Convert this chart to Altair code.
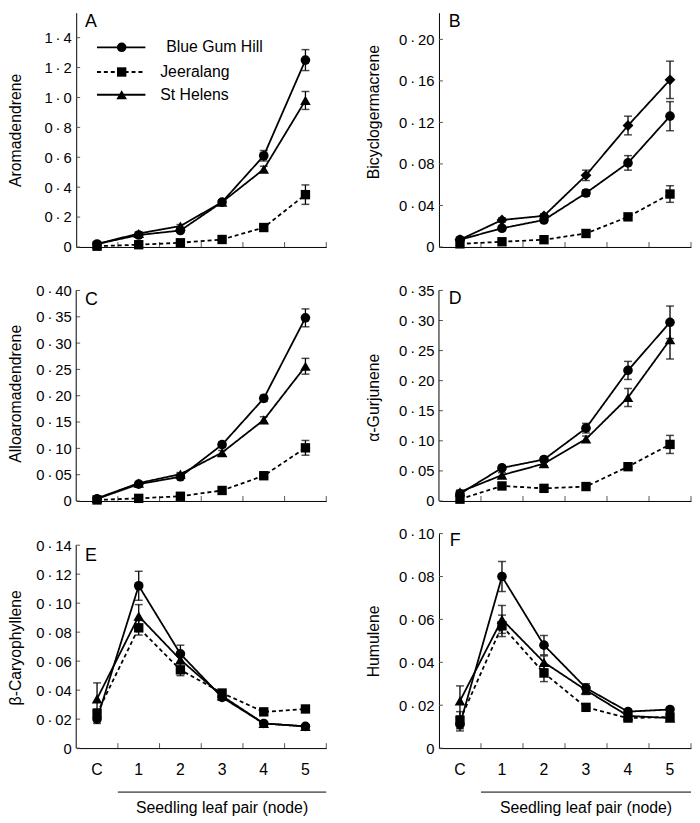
import altair as alt
import pandas as pd

cats = ["C", "1", "2", "3", "4", "5"]
series = ["Blue Gum Hill", "Jeeralang", "St Helens"]

# A - Aromadendrene
aro_bgh = [0.02, 0.08, 0.11, 0.30, 0.61, 1.25]
aro_jee = [0.005, 0.015, 0.028, 0.05, 0.13, 0.35]
aro_sth = [0.02, 0.09, 0.14, 0.30, 0.52, 0.98]
aro_bgh_se = [0.005, 0.01, 0.01, 0.015, 0.035, 0.07]
aro_jee_se = [0.002, 0.004, 0.005, 0.006, 0.01, 0.065]
aro_sth_se = [0.005, 0.01, 0.01, 0.015, 0.02, 0.06]
aro_ticks = [0, 0.2, 0.4, 0.6, 0.8, 1.0, 1.2, 1.4]

# B - Bicyclogermacrene
bic_bgh = [0.007, 0.018, 0.026, 0.052, 0.081, 0.126]
bic_jee = [0.003, 0.005, 0.007, 0.013, 0.029, 0.051]
bic_sth = [0.007, 0.026, 0.030, 0.069, 0.117, 0.161]
bic_bgh_se = [0.001, 0.002, 0.002, 0.003, 0.007, 0.014]
bic_jee_se = [0.0005, 0.001, 0.001, 0.002, 0.002, 0.008]
bic_sth_se = [0.001, 0.002, 0.002, 0.005, 0.009, 0.018]
bic_ticks = [0, 0.04, 0.08, 0.12, 0.16, 0.20]

# C - Alloaromadendrene
all_bgh = [0.004, 0.032, 0.046, 0.107, 0.195, 0.348]
all_jee = [0.002, 0.005, 0.009, 0.020, 0.048, 0.101]
all_sth = [0.005, 0.034, 0.051, 0.092, 0.154, 0.256]
all_bgh_se = [0.001, 0.003, 0.003, 0.005, 0.006, 0.017]
all_jee_se = [0.001, 0.001, 0.001, 0.002, 0.003, 0.014]
all_sth_se = [0.001, 0.003, 0.003, 0.004, 0.006, 0.015]
all_ticks = [0, 0.05, 0.10, 0.15, 0.20, 0.25, 0.30, 0.35, 0.40]

# D - alpha-Gurjunene
gur_bgh = [0.012, 0.055, 0.069, 0.121, 0.217, 0.297]
gur_jee = [0.003, 0.025, 0.021, 0.024, 0.057, 0.094]
gur_sth = [0.015, 0.043, 0.062, 0.103, 0.172, 0.268]
gur_bgh_se = [0.003, 0.004, 0.004, 0.008, 0.015, 0.027]
gur_jee_se = [0.001, 0.003, 0.002, 0.003, 0.005, 0.015]
gur_sth_se = [0.003, 0.004, 0.004, 0.005, 0.015, 0.032]
gur_ticks = [0, 0.05, 0.10, 0.15, 0.20, 0.25, 0.30, 0.35]

# E - beta-Caryophyllene
car_bgh = [0.020, 0.112, 0.065, 0.035, 0.017, 0.015]
car_jee = [0.024, 0.083, 0.054, 0.038, 0.025, 0.027]
car_sth = [0.034, 0.091, 0.061, 0.036, 0.017, 0.015]
car_bgh_se = [0.003, 0.010, 0.006, 0.002, 0.001, 0.001]
car_jee_se = [0.003, 0.005, 0.004, 0.002, 0.001, 0.001]
car_sth_se = [0.011, 0.008, 0.005, 0.002, 0.001, 0.001]
car_ticks = [0, 0.02, 0.04, 0.06, 0.08, 0.10, 0.12, 0.14]

# F - Humulene
hum_bgh = [0.011, 0.080, 0.048, 0.028, 0.017, 0.018]
hum_jee = [0.013, 0.057, 0.035, 0.019, 0.014, 0.0145]
hum_sth = [0.022, 0.060, 0.040, 0.027, 0.015, 0.014]
hum_bgh_se = [0.003, 0.007, 0.0045, 0.002, 0.001, 0.001]
hum_jee_se = [0.004, 0.005, 0.004, 0.001, 0.001, 0.001]
hum_sth_se = [0.007, 0.0065, 0.003, 0.002, 0.001, 0.001]
hum_ticks = [0, 0.02, 0.04, 0.06, 0.08, 0.10]

SHAPES = {"Blue Gum Hill": "circle", "Jeeralang": "square", "St Helens": "triangle-up"}
SIZES = {"circle": 95, "square": 90, "triangle-up": 115, "diamond": 120}
DASH = [[1, 0], [4, 3], [1, 0]]
SEP = "\u2009·\u2009"
FONT = "Liberation Sans"


def panel(letter, ytitle, means, errs, yticks, ymax, fmt, width, height,
          title_x, title_y=None, bottom=False, legend=False,
          st_shape="triangle-up", letter_x=9, letter_y=9, axis_top=None):
    rows = []
    for s, m_list, e_list in zip(series, means, errs):
        shp = st_shape if s == "St Helens" else SHAPES[s]
        for i, (c, m, e) in enumerate(zip(cats, m_list, e_list)):
            rows.append({"series": s, "cat": c, "idx": i, "value": m,
                         "lo": m - e, "hi": m + e, "shape": shp, "size": SIZES[shp]})
    df = pd.DataFrame(rows)

    xs = alt.Scale(type="band", domain=cats, paddingInner=0, paddingOuter=0)
    ys = alt.Scale(domain=[0, ymax], nice=False, zero=True)
    if bottom:
        xaxis = alt.Axis(title=None, labels=True, ticks=False, domain=True,
                         domainColor="black", domainWidth=1, grid=False,
                         labelFontSize=16, labelPadding=14, labelColor="black",
                         labelAngle=0, labelFont=FONT)
    else:
        xaxis = alt.Axis(title=None, labels=False, ticks=False, domain=True,
                         domainColor="black", domainWidth=1, grid=False)
    label_expr = ("datum.value == 0 ? '0' : replace(format(datum.value, '" + fmt
                  + "'), '.', '" + SEP + "')")
    ykw = dict(title=ytitle, values=yticks, labelExpr=label_expr, ticks=False,
               domain=axis_top is None, domainColor="black", domainWidth=1,
               grid=False, labelFontSize=15, labelPadding=5, labelColor="black",
               labelOverlap=False, labelFont=FONT, titleFont=FONT, titleFontSize=16,
               titleFontWeight="normal", titleColor="black", titleX=title_x,
               titleBaseline="middle", titleAlign="center", titleAngle=270)
    if title_y is not None:
        ykw["titleY"] = title_y
    yaxis = alt.Axis(**ykw)

    def X(f="cat:N", **kw):
        return alt.X(f, scale=xs, axis=xaxis, **kw)

    def Y(f):
        return alt.Y(f, scale=ys, axis=yaxis)

    base = alt.Chart(df)
    layers = []
    # inward y ticks
    layers.append(alt.Chart(pd.DataFrame({"value": yticks})).mark_rule(
        color="#555", strokeWidth=1).encode(y=Y("value:Q"), x=alt.value(0), x2=alt.value(4)))
    # inward x ticks at band edges
    layers.append(alt.Chart(pd.DataFrame({"cat": cats})).mark_rule(
        color="#555", strokeWidth=1).encode(x=X("cat:N", bandPosition=1),
                                           y=alt.value(height), y2=alt.value(height - 5)))
    if axis_top is not None:
        # axis line drawn only up to the top labelled tick
        layers.append(alt.Chart(pd.DataFrame({"value": [0], "top": [axis_top]})).mark_rule(
            color="black", strokeWidth=1).encode(
            x=alt.value(0), y=Y("value:Q"), y2="top:Q"))
    # error bars
    layers.append(base.mark_rule(color="black", strokeWidth=1.3).encode(
        x=X(), y=Y("lo:Q"), y2="hi:Q"))
    layers.append(base.mark_tick(color="black", orient="horizontal", size=8,
                                 thickness=1.5).encode(x=X(), y=Y("hi:Q")))
    layers.append(base.mark_tick(color="black", orient="horizontal", size=8,
                                 thickness=1.5).encode(x=X(), y=Y("lo:Q")))
    # lines
    layers.append(base.mark_line(color="black", strokeWidth=1.8).encode(
        x=X(), y=Y("value:Q"),
        strokeDash=alt.StrokeDash("series:N", scale=alt.Scale(domain=series, range=DASH),
                                  legend=None),
        order=alt.Order("idx:Q")))
    # markers
    layers.append(base.mark_point(filled=True, opacity=1, color="black", strokeWidth=0).encode(
        x=X(), y=Y("value:Q"),
        shape=alt.Shape("shape:N", scale=None),
        size=alt.Size("size:Q", scale=None)))
    # panel letter
    layers.append(alt.Chart(alt.Data(values=[{}])).mark_text(
        text=letter, fontSize=18, align="left", baseline="middle", color="black",
        font=FONT).encode(x=alt.value(letter_x), y=alt.value(letter_y)))

    if legend:
        ly = [35, 60, 83]
        tx = [91, 85, 85]
        for i, s in enumerate(series):
            shp = SHAPES[s]
            layers.append(alt.Chart(alt.Data(values=[{}])).mark_rule(
                color="black", strokeWidth=1.8, strokeDash=DASH[i]).encode(
                x=alt.value(21), x2=alt.value(70), y=alt.value(ly[i])))
            layers.append(alt.Chart(alt.Data(values=[{}])).mark_point(
                filled=True, opacity=1, color="black", strokeWidth=0, shape=shp,
                size=SIZES[shp]).encode(x=alt.value(46), y=alt.value(ly[i])))
            layers.append(alt.Chart(alt.Data(values=[{}])).mark_text(
                text=s, fontSize=16, align="left", baseline="middle", color="black",
                font=FONT).encode(x=alt.value(tx[i]), y=alt.value(ly[i])))

    if bottom:
        layers.append(alt.Chart(pd.DataFrame({"cat": ["1"]})).mark_rule(
            color="black", strokeWidth=1).encode(
            x=X("cat:N", bandPosition=0), x2=alt.value(width),
            y=alt.value(height + 44.5)))
        layers.append(alt.Chart(pd.DataFrame({"cat": ["3"]})).mark_text(
            text="Seedling leaf pair (node)", fontSize=16, align="center",
            baseline="alphabetic", color="black", font=FONT).encode(
            x=X("cat:N", bandPosition=0.5),
            y=alt.value(height + 66)))

    return alt.layer(*layers).properties(width=width, height=height)


WL, WR = 253, 255
H1, H2, H3 = 237, 224, 217

pA = panel("A", "Aromadendrene", [aro_bgh, aro_jee, aro_sth],
           [aro_bgh_se, aro_jee_se, aro_sth_se], aro_ticks, 1.567, ".1f", WL, H1,
           title_x=-61, legend=True, letter_y=9)
pB = panel("B", "Bicyclogermacrene", [bic_bgh, bic_jee, bic_sth],
           [bic_bgh_se, bic_jee_se, bic_sth_se], bic_ticks, 0.2257, ".2f", WR, H1,
           title_x=-66, title_y=100, st_shape="diamond", letter_x=10, letter_y=9)
pC = panel("C", "Alloaromadendrene", [all_bgh, all_jee, all_sth],
           [all_bgh_se, all_jee_se, all_sth_se], all_ticks, 0.4207, ".2f", WL, H2,
           title_x=-61, title_y=115, letter_y=21, axis_top=0.40)
pD = panel("D", "α-Gurjunene", [gur_bgh, gur_jee, gur_sth],
           [gur_bgh_se, gur_jee_se, gur_sth_se], gur_ticks, 0.368, ".2f", WR, H2,
           title_x=-66, title_y=119, letter_x=10, letter_y=20, axis_top=0.35)
pE = panel("E", "β-Caryophyllene", [car_bgh, car_jee, car_sth],
           [car_bgh_se, car_jee_se, car_sth_se], car_ticks, 0.148, ".2f", WL, H3,
           title_x=-61, title_y=115, bottom=True, letter_y=23, axis_top=0.14)
pF = panel("F", "Humulene", [hum_bgh, hum_jee, hum_sth],
           [hum_bgh_se, hum_jee_se, hum_sth_se], hum_ticks, 0.10, ".2f", WR, H3,
           title_x=-66, bottom=True, letter_x=11, letter_y=8)

chart = alt.concat(
    pA, pB, pC, pD, pE, pF,
    columns=2,
    spacing={"row": 33, "column": 114},
    bounds="flush",
    align="each",
).properties(padding=0).configure(font=FONT).configure_view(strokeWidth=0)

chart.save("out.html", embed_options={"renderer": "svg", "actions": False})
